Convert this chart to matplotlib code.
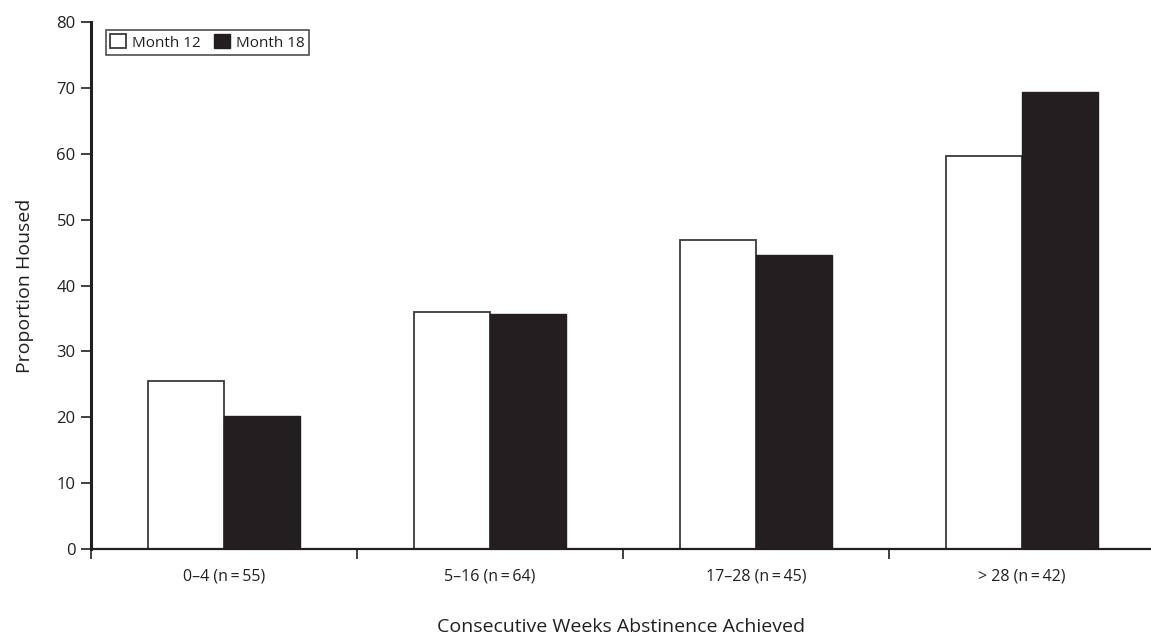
import matplotlib
matplotlib.use("Agg")
import matplotlib.pyplot as plt
import numpy as np

categories = ["0\u20134 (n\u2009=\u200955)", "5\u201316 (n\u2009=\u200964)", "17\u201328 (n\u2009=\u200945)", "> 28 (n\u2009=\u200942)"]
month12 = [25.5, 36.0, 46.9, 59.6]
month18 = [20.2, 35.7, 44.6, 69.3]
series_names = ["Month 12", "Month 18"]

plt.rcParams['font.family'] = ['Open Sans', 'DejaVu Sans']

fig = plt.figure(figsize=(11.51, 6.36), dpi=100)
ax = fig.add_axes([91/1151, 87/636, 1 - 91/1151, (549-22)/636])

centers = np.arange(len(categories)) + 0.5
w = 0.285
ink = "#231f20"
ax.bar(centers - w/2, month12, width=w, color="white", edgecolor="#3a3a3a", linewidth=1.3, label=series_names[0])
ax.bar(centers + w/2, month18, width=w, color=ink, edgecolor=ink, linewidth=1.0, label=series_names[1])

ax.set_xlim(0, 3.985)
ax.set_ylim(0, 80)
ax.set_yticks(range(0, 81, 10))
ax.set_xticks([0, 1, 2, 3])
ax.set_xticklabels([])
ax.set_xticks(centers, minor=True)
ax.set_xticklabels(categories, minor=True, fontsize=11.5, color=ink)
ax.tick_params(axis='x', which='minor', length=0, pad=14)
ax.tick_params(axis='x', which='major', length=7, width=1.2, direction='out', color=ink)
ax.tick_params(axis='y', length=7, width=1.2, direction='out', labelsize=12, colors=ink, pad=4)

for s in ['top', 'right']:
    ax.spines[s].set_visible(False)
ax.spines['left'].set_linewidth(2.2)
ax.spines['left'].set_color(ink)
ax.spines['bottom'].set_linewidth(1.6)
ax.spines['bottom'].set_color(ink)

ax.set_ylabel("Proportion Housed", fontsize=14, color=ink, labelpad=16)
ax.set_xlabel("Consecutive Weeks Abstinence Achieved", fontsize=14, color=ink, labelpad=24)

leg = ax.legend(loc='upper left', bbox_to_anchor=(0.014, 0.985), ncol=2, frameon=True, fancybox=False,
                edgecolor=ink, fontsize=11, handlelength=1.0, handleheight=1.0, handletextpad=0.4,
                columnspacing=0.9, borderpad=0.3, borderaxespad=0)
leg.get_frame().set_linewidth(1.2)
for t in leg.get_texts():
    t.set_color(ink)

fig.savefig("out.png", dpi=100)
